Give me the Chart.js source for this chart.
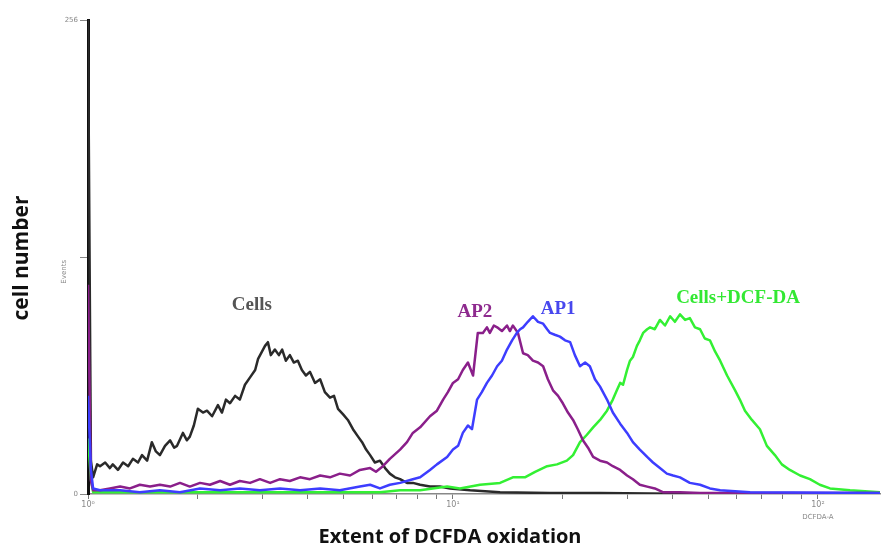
<!DOCTYPE html>
<html><head><meta charset="utf-8">
<script src="https://cdn.jsdelivr.net/npm/chart.js@4.4.1/dist/chart.umd.min.js"></script>
<style>html,body{margin:0;padding:0;background:#fff}#wrap{width:895px;height:547px;position:relative}</style>
</head><body><div id="wrap"><canvas id="c" width="895" height="547"></canvas></div>
<script>
// x values: log10 of DCFDA fluorescence (decades), y values: event counts
const cellsX = [0,0.008,0.014,0.025,0.033,0.047,0.060,0.068,0.082,0.096,0.110,0.123,0.137,0.148,0.162,0.175,0.186,0.197,0.211,0.225,0.236,0.244,0.260,0.271,0.279,0.290,0.301,0.315,0.326,0.340,0.356,0.367,0.378,0.389,0.403,0.416,0.430,0.444,0.458,0.466,0.477,0.485,0.493,0.501,0.512,0.523,0.532,0.542,0.553,0.564,0.575,0.586,0.597,0.608,0.622,0.636,0.649,0.663,0.674,0.685,0.699,0.712,0.726,0.740,0.751,0.762,0.773,0.786,0.800,0.814,0.827,0.841,0.855,0.874,0.890,0.910,0.937,0.964,0.992,1.047,1.129,1.266,1.403,1.677,2.170];
const cellsY = [256,18,9,16,15,17,14,16,13,17,15,19,17,21,18,28,23,21,26,29,25,26,33,29,31,37,46,44,45,42,48,44,51,49,53,51,59,63,67,73,77,80,82,75,78,75,78,72,75,71,72,67,64,66,60,62,55,52,53,46,43,40,35,31,28,24,21,17,18,14,11,9,8,6,6,5,4,4,3,2,1,0.5,0.5,0,0];

const ap2X = [0,0.008,0.014,0.033,0.060,0.088,0.115,0.142,0.170,0.197,0.225,0.252,0.279,0.307,0.334,0.362,0.389,0.416,0.444,0.471,0.499,0.526,0.553,0.581,0.608,0.636,0.663,0.690,0.718,0.745,0.773,0.789,0.808,0.827,0.855,0.874,0.890,0.910,0.937,0.956,0.973,0.986,1.000,1.014,1.027,1.041,1.055,1.068,1.082,1.093,1.101,1.112,1.121,1.134,1.148,1.156,1.164,1.178,1.192,1.205,1.219,1.233,1.247,1.260,1.274,1.288,1.301,1.315,1.329,1.342,1.356,1.370,1.384,1.403,1.422,1.438,1.458,1.477,1.493,1.512,1.532,1.553,1.575,1.622,1.677,2.170];
const ap2Y = [113,7,2,2,3,4,3,5,4,5,4,6,4,6,5,7,5,7,6,8,6,8,7,9,8,10,9,11,10,13,14,12,15,19,24,28,33,36,42,45,51,55,60,62,67,71,64,87,87,90,87,91,90,88,91,88,91,87,76,75,72,71,69,62,56,53,49,44,40,35,29,25,20,18,17,15,13,10,8,5,4,3,1,1,0.5,0.5];

const ap1X = [0,0.008,0.014,0.033,0.088,0.142,0.197,0.252,0.307,0.362,0.416,0.471,0.526,0.581,0.636,0.690,0.745,0.773,0.800,0.827,0.855,0.890,0.910,0.937,0.956,0.984,1.000,1.014,1.027,1.041,1.052,1.066,1.079,1.093,1.107,1.121,1.134,1.148,1.162,1.175,1.184,1.192,1.205,1.219,1.233,1.247,1.258,1.266,1.279,1.293,1.307,1.321,1.334,1.348,1.362,1.375,1.389,1.403,1.422,1.438,1.458,1.477,1.493,1.512,1.532,1.548,1.567,1.586,1.603,1.622,1.649,1.677,1.704,1.732,1.814,2.170];
const ap1Y = [53,13,3,2,2,1,2,1,3,2,3,2,3,2,3,2,4,5,3,5,6,8,9,13,16,20,24,26,33,37,35,51,55,60,64,69,72,78,83,87,89,90,93,96,93,92,89,87,86,85,83,82,75,69,71,69,62,58,51,44,38,33,28,24,20,17,14,11,10,9,6,5,3,2,1,0.5];

const dcfX = [0,0.008,0.014,0.033,0.100,0.200,0.300,0.400,0.500,0.600,0.700,0.800,0.855,0.910,0.984,1.019,1.074,1.129,1.164,1.197,1.225,1.258,1.285,1.312,1.329,1.348,1.367,1.384,1.403,1.422,1.438,1.449,1.458,1.466,1.477,1.485,1.493,1.504,1.512,1.521,1.532,1.540,1.553,1.567,1.581,1.595,1.608,1.622,1.636,1.649,1.663,1.677,1.690,1.704,1.718,1.732,1.751,1.773,1.786,1.800,1.819,1.841,1.860,1.882,1.901,1.923,1.951,1.978,2.005,2.033,2.088,2.170];
const dcfY = [30,8,1,1,1,1,1,1,1,1,1,1,2,2,4,3,5,6,9,9,12,15,16,18,21,28,32,36,40,45,51,56,60,59,67,72,74,80,83,87,89,90,89,94,91,96,93,97,94,95,90,89,84,83,77,72,64,56,51,45,40,35,26,21,16,13,10,8,5,3,2,1];

const seriesNames = ["Cells", "AP2", "AP1", "Cells+DCF-DA"];
const labelX = [0.449, 1.060, 1.288, 1.781];
const labelY = [102, 98, 100, 106];
const xDecades = [0, 1, 2];
const xTickLabels = ["10\u2070", "10\u00b9", "10\u00b2"];
const yTicks = [0, 128, 256];
const yTickLabels = ["0", "", "256"];

function pts(xs, ys){ return xs.map((x,i)=>({x:x, y:ys[i]})); }

const labelColors = ['#555555', '#8e2a8e', '#4747ee', '#33e833'];
const labelPlugin = {
  id:'labels',
  afterDraw(chart){
    const ctx = chart.ctx, xs = chart.scales.x, ys = chart.scales.y;
    ctx.save();
    ctx.textAlign='center'; ctx.textBaseline='middle';
    ctx.font = 'bold 19px "Liberation Serif", "DejaVu Serif", serif';
    seriesNames.forEach((n,i)=>{ ctx.fillStyle=labelColors[i]; ctx.fillText(n, xs.getPixelForValue(labelX[i]), ys.getPixelForValue(labelY[i])); });
    // axis titles
    ctx.fillStyle='#111';
    ctx.font = 'bold 20px "Open Sans", "Noto Sans", sans-serif';
    ctx.fillText('Extent of DCFDA oxidation', 450, 537);
    ctx.save();
    ctx.translate(22, 258); ctx.rotate(-Math.PI/2);
    ctx.font = 'bold 21px "Open Sans", "Noto Sans", sans-serif';
    ctx.fillText('cell number', 0, 0);
    ctx.restore();
    ctx.fillStyle='#888';
    ctx.font = '7px "DejaVu Sans", sans-serif';
    ctx.fillText('DCFDA-A', xs.getPixelForValue(2), 517);
    ctx.save();
    ctx.translate(64, ys.getPixelForValue(120)); ctx.rotate(-Math.PI/2);
    ctx.fillText('Events', 0, 0);
    ctx.restore();
    ctx.restore();
  }
};

const common = {fill:false, pointRadius:0, borderWidth:2.5, tension:0, borderJoinStyle:'round'};
new Chart(document.getElementById('c'), {
  type:'line',
  data:{ datasets:[
    Object.assign({label:seriesNames[0], data:pts(cellsX,cellsY), borderColor:'#2a2a2a', order:3}, common),
    Object.assign({label:seriesNames[3], data:pts(dcfX,dcfY), borderColor:'#33f033', order:2}, common),
    Object.assign({label:seriesNames[1], data:pts(ap2X,ap2Y), borderColor:'#8a1f8a', order:1}, common),
    Object.assign({label:seriesNames[2], data:pts(ap1X,ap1Y), borderColor:'#3d3dff', order:0}, common)
  ]},
  options:{
    responsive:false, animation:false, events:[],
    layout:{padding:{left:0, right:15, top:20, bottom:0}},
    plugins:{legend:{display:false}, tooltip:{enabled:false}},
    scales:{
      x:{ type:'linear', min:0, max:2.17,
        afterBuildTicks(s){ const t=[]; xDecades.forEach(d=>{ for(let k=1;k<=9;k++){ const v=d+Math.log10(k); if(v<=2.17) t.push({value:v}); } }); s.ticks=t; },
        afterFit(s){ s.height = 53; },
        grid:{drawOnChartArea:false, drawTicks:true, tickLength:5, color:'#777', lineWidth:1},
        border:{color:'#888', width:1.5},
        ticks:{ autoSkip:false, maxRotation:0, padding:1, color:'#888', font:{size:8, family:'DejaVu Sans'},
          callback(v){ const i = xDecades.indexOf(Math.round(v*1000)/1000); return i>=0 ? xTickLabels[i] : ''; } }
      },
      y:{ min:0, max:256,
        afterBuildTicks(s){ s.ticks = yTicks.map(v=>({value:v})); },
        afterFit(s){ s.width = 88; },
        grid:{drawOnChartArea:false, drawTicks:true, tickLength:8, color:'#888'},
        border:{color:'#111', width:3},
        ticks:{ color:'#888', padding:2, font:{size:7, family:'DejaVu Sans'},
          callback(v){ const i=yTicks.indexOf(v); return i>=0 ? yTickLabels[i] : ''; } }
      }
    }
  },
  plugins:[labelPlugin]
});
</script></body></html>
